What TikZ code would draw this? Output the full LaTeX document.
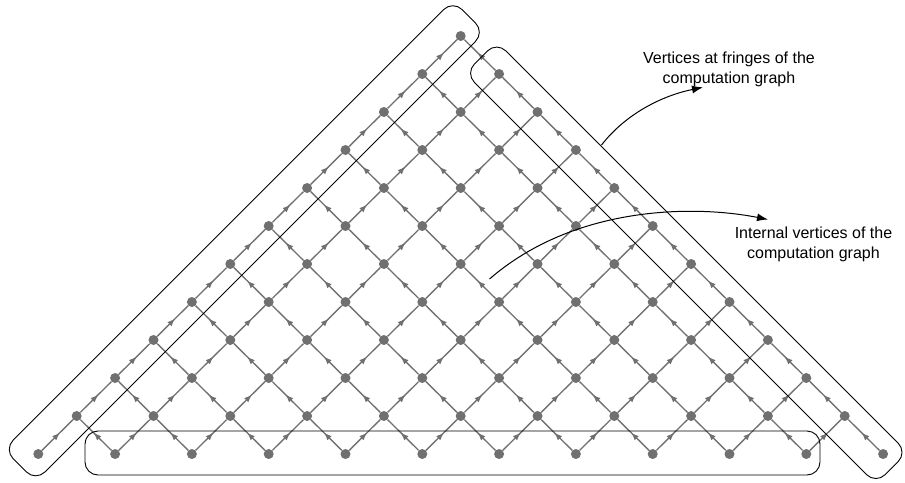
\documentclass[tikz,border=0pt]{standalone}
\usepackage{fontspec}
\setmainfont{Liberation Sans}
\usetikzlibrary{arrows.meta,decorations.markings}
\definecolor{gridgray}{RGB}{112,112,112}
\begin{document}
\begin{tikzpicture}[x=1pt,y=-1pt,
  vertex/.style={circle,fill=gridgray,draw=none,minimum size=10pt,inner sep=0pt},
  gridedge/.style={color=gridgray,line width=1.35pt,postaction={decorate},
    decoration={markings,mark=at position 0.58 with {\arrow{Latex[length=8pt,width=6pt]}}}},
  fringe/.style={draw=black,line width=0.9pt,rounded corners=13pt},
  callout/.style={draw=black,line width=1pt,-{Latex[length=11pt,width=8pt]}},
  note/.style={align=center,font=\fontsize{16}{20.6}\selectfont,inner sep=0pt}
]
\useasboundingbox (0,0) rectangle (905,482);

% lattice vertices, row k from the bottom, position j from the left
\foreach \k in {0,...,11}{
  \pgfmathtruncatemacro{\jmax}{11-\k}
  \foreach \j in {0,...,\jmax}{
    \node[vertex] (v\k-\j) at ({38.3+38.4*\k+76.8*\j},{454-38*\k}) {};
  }
}

% directed edges to the next row up
\foreach \k in {0,...,10}{
  \pgfmathtruncatemacro{\kk}{\k+1}
  \pgfmathtruncatemacro{\jmax}{11-\k}
  \foreach \j in {0,...,\jmax}{
    \pgfmathtruncatemacro{\jl}{\j-1}
    \ifnum\j<\jmax \draw[gridedge] (v\k-\j) -- (v\kk-\j); \fi
    \ifnum\j>0 \draw[gridedge] (v\k-\j) -- (v\kk-\jl); \fi
  }
}

% groups of fringe vertices
\draw[fringe] (3.9,449.4) -- (35.7,481.2) -- (484.7,32.2) -- (452.9,0.35) -- cycle;
\draw[fringe] (496.7,41.7) -- (465.2,73.2) -- (875.9,483.9) -- (907.4,452.4) -- cycle;
\draw[fringe] (85,431) rectangle (820,475);

% annotations
\node[note] (fringetext) at (729,69.5) {Vertices at fringes of the\\computation graph};
\node[note] (innertext) at (813.5,244.2) {Internal vertices of the\\computation graph};

\coordinate (fs) at (601.5,145);
\coordinate (fe) at (703,87.3);
\coordinate (is) at (489.5,279);
\coordinate (ie) at (768,219.5);
\draw[callout] (fs) .. controls (626.5,113) and (663,95.5) .. (fe);
\draw[callout] (is) .. controls (575,205) and (695,205) .. (ie);
\end{tikzpicture}
\end{document}
